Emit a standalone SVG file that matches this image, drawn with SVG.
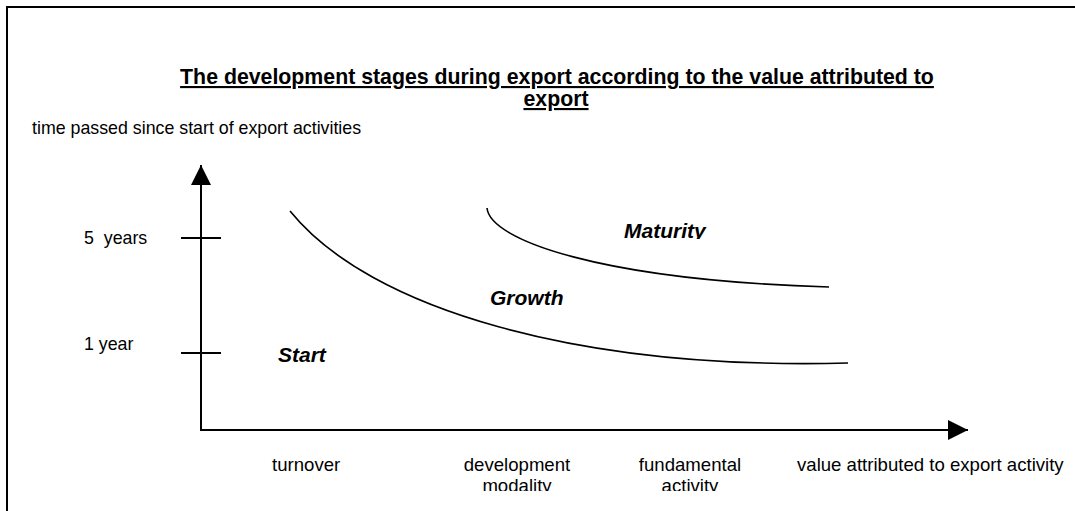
<svg xmlns="http://www.w3.org/2000/svg" width="1075" height="511" viewBox="0 0 1075 511">
  <style>
    .frame { fill: none; stroke: #000; stroke-width: 2; }
    .axis { fill: none; stroke: #000; stroke-width: 2; }
    .tick { fill: none; stroke: #000; stroke-width: 2; }
    .curve { fill: none; stroke: #000; stroke-width: 1.6; }
    .title { font-family: "Liberation Sans", Arial, sans-serif; font-size: 21.3px; font-weight: bold; text-decoration: underline; fill: #000; text-anchor: middle; }
    .lbl { font-family: "Liberation Sans", Arial, sans-serif; font-size: 17.8px; fill: #000; white-space: pre; }
    .xl { font-size: 18.6px; }
    .mid { text-anchor: middle; }
    .stage { font-family: "Liberation Sans", Arial, sans-serif; font-size: 21px; font-weight: bold; font-style: italic; fill: #000; }
  </style>
  <defs>
    <marker id="arrow" markerUnits="userSpaceOnUse" markerWidth="20" markerHeight="20" refX="20" refY="10" orient="auto">
      <path d="M0,0 L20,10 L0,20 Z" fill="#000"/>
    </marker>
    <clipPath id="clipMat"><rect x="600" y="200" width="150" height="39"/></clipPath>
    <clipPath id="clipLow"><rect x="400" y="440" width="400" height="51"/></clipPath>
  </defs>
  <rect width="1075" height="511" fill="#fff"/>
  <path class="frame" d="M7,511 L7,7 L1075,7"/>

  <g id="title">
    <text class="title" x="557" y="84">The development stages during export according to the value attributed to</text>
    <text class="title" x="556" y="106">export</text>
  </g>

  <g id="connectors">
    <line id="y-axis" class="axis" x1="201" y1="430" x2="201" y2="165" marker-end="url(#arrow)"/>
    <line id="x-axis" class="axis" x1="200" y1="430" x2="968" y2="430" marker-end="url(#arrow)"/>
    <line class="tick" x1="181" y1="238" x2="221" y2="238"/>
    <line class="tick" x1="181" y1="353" x2="221" y2="353"/>
    <path id="curve-start-growth" class="curve" d="M290,211 C370,310 580,370 848,363"/>
    <path id="curve-growth-maturity" class="curve" d="M487,208 C490,240 600,280 829,287"/>
  </g>

  <g id="y-labels">
    <text class="lbl" x="32" y="134">time passed since start of export activities</text>
    <text class="lbl" x="84" y="244">5  years</text>
    <text class="lbl" x="84" y="350">1 year</text>
  </g>

  <g id="x-labels">
    <text class="lbl xl" x="272" y="471">turnover</text>
    <g clip-path="url(#clipLow)">
      <text class="lbl xl mid" x="517" y="471">development</text>
      <text class="lbl xl mid" x="517" y="492">modality</text>
      <text class="lbl xl mid" x="690" y="471">fundamental</text>
      <text class="lbl xl mid" x="690" y="492">activity</text>
    </g>
    <text class="lbl xl" x="797" y="471">value attributed to export activity</text>
  </g>

  <g id="stage-start"><text class="stage" x="278" y="362">Start</text></g>
  <g id="stage-growth"><text class="stage" x="490" y="305">Growth</text></g>
  <g id="stage-maturity" clip-path="url(#clipMat)"><text class="stage" x="624" y="238">Maturity</text></g>
</svg>
